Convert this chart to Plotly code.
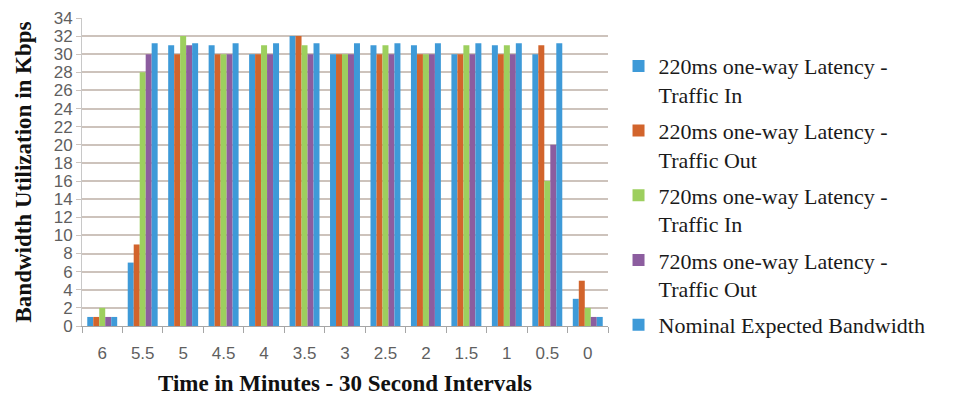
import plotly.graph_objects as go

# Time remaining (minutes), sampled every 30 seconds
intervals = ["6", "5.5", "5", "4.5", "4", "3.5", "3", "2.5", "2", "1.5", "1", "0.5", "0"]

# Bandwidth utilisation in Kbps per interval
lat220_in = [1, 7, 31, 31, 30, 32, 30, 31, 31, 30, 31, 30, 3]
lat220_out = [1, 9, 30, 30, 30, 32, 30, 30, 30, 30, 30, 31, 5]
lat720_in = [2, 28, 32, 30, 31, 31, 30, 31, 30, 31, 31, 16, 2]
lat720_out = [1, 30, 31, 30, 30, 30, 30, 30, 30, 30, 30, 20, 1]
nominal = [1, 31.2, 31.2, 31.2, 31.2, 31.2, 31.2, 31.2, 31.2, 31.2, 31.2, 31.2, 1]

series = [
    ("220ms one-way Latency -<br>Traffic In", lat220_in, "#3E9AD8"),
    ("220ms one-way Latency -<br>Traffic Out", lat220_out, "#D2642C"),
    ("720ms one-way Latency -<br>Traffic In", lat720_in, "#9DCF5E"),
    ("720ms one-way Latency -<br>Traffic Out", lat720_out, "#8C5D9F"),
    ("Nominal Expected Bandwidth", nominal, "#3E9AD8"),
]

fig = go.Figure()
for i, (name, vals, color) in enumerate(series):
    fig.add_trace(go.Bar(x=intervals, y=vals, name=name, marker_color=color,
                         marker_line_width=0, legendgroup=f"g{i}"))

grid = "#CDC3BC"
tick_font = dict(family="Liberation Sans", size=17, color="#5F5F5F")

fig.update_layout(
    width=968, height=398,
    margin=dict(l=82, r=360, t=18, b=72, autoexpand=False),
    paper_bgcolor="white", plot_bgcolor="white",
    barmode="group", bargap=0.26, bargroupgap=0,
    showlegend=True,
    legend=dict(
        x=1.02, y=0.912, xanchor="left", yanchor="top",
        valign="top", tracegroupgap=4.5,
        font=dict(family="Liberation Serif", size=22, color="#1A1A1A"),
    ),
    xaxis=dict(
        type="category", tickson="boundaries", ticks="outside", ticklen=6,
        tickcolor="#A6A6A6", showline=True, linecolor="#A6A6A6", linewidth=1,
        showgrid=False, tickfont=tick_font, ticklabelstandoff=12,
        automargin=False,
        title=dict(text="<b>Time in Minutes - 30 Second Intervals</b>",
                   font=dict(family="Liberation Serif", size=23, color="#111111"),
                   standoff=12),
    ),
    yaxis=dict(
        range=[0, 34], dtick=2, tick0=0, ticks="outside", ticklen=5,
        tickcolor=grid, showgrid=True, gridcolor=grid, gridwidth=2,
        showline=True, linecolor="#C8C8C8", linewidth=1, zeroline=False,
        tickfont=tick_font, automargin=False,
        title=dict(text="<b>Bandwidth Utilization in Kbps</b>",
                   font=dict(family="Liberation Serif", size=23, color="#111111"),
                   standoff=15),
    ),
)

fig.write_html("out.html")
